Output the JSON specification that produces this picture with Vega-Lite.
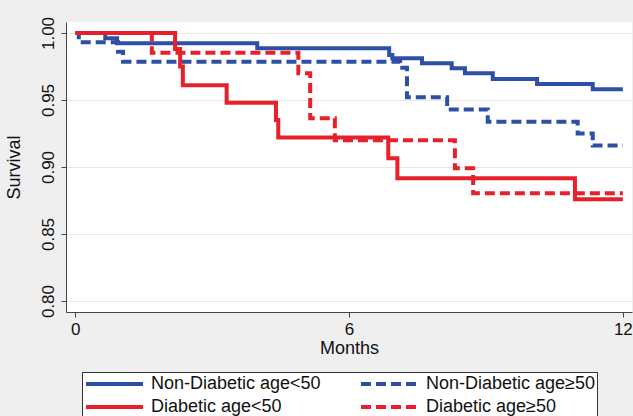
{
  "$schema": "https://vega.github.io/schema/vega-lite/v6.json",
  "width": 566,
  "height": 290,
  "autosize": {"type": "none"},
  "padding": {"left": 66, "top": 22, "right": 1, "bottom": 104},
  "background": "#efefef",
  "config": {
    "view": {"fill": "white", "stroke": null},
    "font": "Liberation Sans",
    "axis": {"domainColor": "#444", "tickColor": "#444", "labelColor": "#111", "titleColor": "#111", "titleFontWeight": "normal", "labelFont": "Liberation Sans", "titleFont": "Liberation Sans"}
  },
  "data": {
    "values": [
      {"g": "Non-Diabetic age<50", "t": 0, "s": 1.0},
      {"g": "Non-Diabetic age<50", "t": 0.66, "s": 0.996},
      {"g": "Non-Diabetic age<50", "t": 0.92, "s": 0.9923},
      {"g": "Non-Diabetic age<50", "t": 3.99, "s": 0.9886},
      {"g": "Non-Diabetic age<50", "t": 6.88, "s": 0.9835},
      {"g": "Non-Diabetic age<50", "t": 6.95, "s": 0.9811},
      {"g": "Non-Diabetic age<50", "t": 7.6, "s": 0.9774},
      {"g": "Non-Diabetic age<50", "t": 8.25, "s": 0.9737},
      {"g": "Non-Diabetic age<50", "t": 8.54, "s": 0.970},
      {"g": "Non-Diabetic age<50", "t": 9.15, "s": 0.9657},
      {"g": "Non-Diabetic age<50", "t": 10.12, "s": 0.962},
      {"g": "Non-Diabetic age<50", "t": 11.34, "s": 0.958},
      {"g": "Non-Diabetic age<50", "t": 12, "s": 0.958},
      {"g": "Non-Diabetic age≥50", "t": 0, "s": 1.0},
      {"g": "Non-Diabetic age≥50", "t": 0.08, "s": 0.993},
      {"g": "Non-Diabetic age≥50", "t": 0.94, "s": 0.986},
      {"g": "Non-Diabetic age≥50", "t": 1.05, "s": 0.9786},
      {"g": "Non-Diabetic age≥50", "t": 7.12, "s": 0.974},
      {"g": "Non-Diabetic age≥50", "t": 7.27, "s": 0.952},
      {"g": "Non-Diabetic age≥50", "t": 8.15, "s": 0.943},
      {"g": "Non-Diabetic age≥50", "t": 9.04, "s": 0.9338},
      {"g": "Non-Diabetic age≥50", "t": 11.01, "s": 0.925},
      {"g": "Non-Diabetic age≥50", "t": 11.34, "s": 0.916},
      {"g": "Non-Diabetic age≥50", "t": 12, "s": 0.916},
      {"g": "Diabetic age<50", "t": 0, "s": 1.0},
      {"g": "Diabetic age<50", "t": 2.19, "s": 0.988},
      {"g": "Diabetic age<50", "t": 2.3, "s": 0.975},
      {"g": "Diabetic age<50", "t": 2.36, "s": 0.961},
      {"g": "Diabetic age<50", "t": 3.32, "s": 0.948},
      {"g": "Diabetic age<50", "t": 4.4, "s": 0.935},
      {"g": "Diabetic age<50", "t": 4.45, "s": 0.922},
      {"g": "Diabetic age<50", "t": 6.86, "s": 0.9065},
      {"g": "Diabetic age<50", "t": 7.06, "s": 0.8916},
      {"g": "Diabetic age<50", "t": 10.95, "s": 0.876},
      {"g": "Diabetic age<50", "t": 12, "s": 0.876},
      {"g": "Diabetic age≥50", "t": 0, "s": 1.0},
      {"g": "Diabetic age≥50", "t": 1.68, "s": 0.9853},
      {"g": "Diabetic age≥50", "t": 4.89, "s": 0.970},
      {"g": "Diabetic age≥50", "t": 5.15, "s": 0.9363},
      {"g": "Diabetic age≥50", "t": 5.69, "s": 0.920},
      {"g": "Diabetic age≥50", "t": 8.32, "s": 0.899},
      {"g": "Diabetic age≥50", "t": 8.72, "s": 0.8804},
      {"g": "Diabetic age≥50", "t": 12, "s": 0.8804}
    ]
  },
  "mark": {"type": "line", "interpolate": "step-after", "strokeWidth": 4},
  "encoding": {
    "x": {
      "field": "t", "type": "quantitative", "title": "Months",
      "scale": {"domain": [-0.2, 12.2], "nice": false, "zero": false},
      "axis": {"values": [0, 6, 12], "grid": false, "tickSize": 5, "labelPadding": 4, "labelFontSize": 17, "titleFontSize": 18, "titlePadding": 2, "labelFlush": false}
    },
    "y": {
      "field": "s", "type": "quantitative", "title": "Survival",
      "scale": {"domain": [0.7918, 1.0082], "nice": false, "zero": false},
      "axis": {"values": [0.8, 0.85, 0.9, 0.95, 1.0], "format": ".2f", "grid": true, "gridColor": "#e8e8e8", "tickSize": 5, "labelAngle": -90, "labelAlign": "center", "labelBaseline": "bottom", "labelPadding": 4, "labelFontSize": 17, "titleFontSize": 18, "titlePadding": 16, "labelFlush": false}
    },
    "color": {
      "field": "g", "type": "nominal",
      "scale": {
        "domain": ["Non-Diabetic age<50", "Diabetic age<50", "Non-Diabetic age≥50", "Diabetic age≥50"],
        "range": ["#2d4fa5", "#e8202a", "#2d4fa5", "#e8202a"]
      },
      "legend": {
        "title": null, "orient": "none", "legendX": 16, "legendY": 350, "columns": 2,
        "symbolType": "stroke", "symbolSize": 3249, "symbolStrokeWidth": 4,
        "clipHeight": 20, "rowPadding": 3, "columnPadding": 38, "padding": 2,
        "labelFontSize": 18, "labelLimit": 400, "labelOffset": 6, "labelColor": "#111",
        "strokeColor": "#333", "fillColor": "white"
      }
    },
    "strokeDash": {
      "field": "g", "type": "nominal",
      "scale": {
        "domain": ["Non-Diabetic age<50", "Diabetic age<50", "Non-Diabetic age≥50", "Diabetic age≥50"],
        "range": [[1, 0], [1, 0], [10, 5], [10, 5]]
      },
      "legend": null
    }
  }
}
